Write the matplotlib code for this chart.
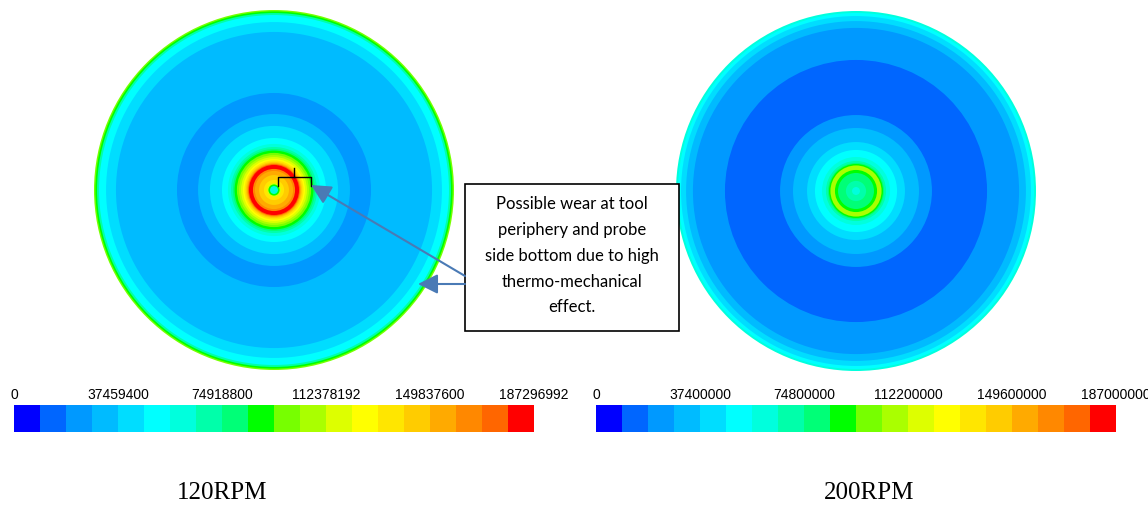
import numpy as np
import matplotlib.pyplot as plt
from matplotlib.colors import ListedColormap, BoundaryNorm
from matplotlib.patches import Circle, Rectangle

W, H = 1148, 510

# 20-level contour palette (blue -> red)
band_colors = ["#0000ff", "#0066ff", "#0099ff", "#00bbff", "#00ddff",
               "#00ffff", "#00ffdd", "#00ffaa", "#00ff77", "#00ff00",
               "#77ff00", "#aaff00", "#ddff00", "#ffff00", "#ffe600",
               "#ffcc00", "#ffaa00", "#ff8800", "#ff6600", "#ff0000"]

# 120RPM: ring outer radius (r/R) and contour value
left_max = 187296992
left_ticks = ["0", "37459400", "74918800", "112378192", "149837600", "187296992"]
left_radius = [1.000, 0.992, 0.983, 0.972, 0.933, 0.878, 0.539, 0.422, 0.356, 0.289,
               0.256, 0.239, 0.228, 0.219, 0.206, 0.194, 0.183, 0.172, 0.164, 0.156,
               0.150, 0.144, 0.139, 0.117, 0.106, 0.083, 0.056, 0.039, 0.031, 0.022]
left_value = [98e6, 89e6, 70e6, 51e6, 42e6, 33e6, 23e6, 33e6, 42e6, 51e6,
              61e6, 70e6, 80e6, 89e6, 98e6, 108e6, 117e6, 126e6, 136e6, 145e6,
              155e6, 173e6, 183e6, 164e6, 155e6, 145e6, 136e6, 117e6, 89e6, 61e6]

# 200RPM
right_max = 187000000
right_ticks = ["0", "37400000", "74800000", "112200000", "149600000", "187000000"]
right_radius = [1.000, 0.989, 0.972, 0.944, 0.906, 0.728, 0.422, 0.350, 0.272, 0.228,
                0.189, 0.167, 0.156, 0.150, 0.142, 0.117, 0.100, 0.056, 0.022]
right_value = [61e6, 51e6, 42e6, 33e6, 23e6, 14e6, 23e6, 33e6, 42e6, 51e6,
               61e6, 70e6, 80e6, 89e6, 108e6, 89e6, 80e6, 70e6, 61e6]

note = "Possible wear at tool\nperiphery and probe\nside bottom due to high\nthermo-mechanical\neffect."
arrow_color = "#4a7ab5"

cmap = ListedColormap(band_colors)

fig = plt.figure(figsize=(W / 100, H / 100), dpi=100)


def px_axes(x, y, w, h):
    return fig.add_axes([x / W, 1 - (y + h) / H, w / W, h / H])


def draw_disk(box, radius, value, vmax):
    ax = px_axes(*box)
    norm = BoundaryNorm(np.linspace(0, vmax, 21), cmap.N)
    for r, v in zip(radius, value):
        ax.add_patch(Circle((0, 0), r, facecolor=cmap(norm(v)), edgecolor="none"))
    ax.set_xlim(-1, 1)
    ax.set_ylim(-1, 1)
    ax.set_aspect("equal")
    ax.axis("off")
    return norm


def draw_bar(box, norm, vmax, ticks):
    cax = px_axes(*box)
    cb = fig.colorbar(plt.cm.ScalarMappable(norm=norm, cmap=cmap), cax=cax,
                      orientation="horizontal")
    cb.set_ticks(np.linspace(0, vmax, 6))
    cb.set_ticklabels(ticks)
    cb.minorticks_off()
    cb.outline.set_visible(False)
    cax.xaxis.set_ticks_position("top")
    cax.tick_params(which="both", length=0, pad=3, labelsize=10)
    for t in cax.get_xticklabels():
        t.set_fontfamily("Liberation Sans")
        t.set_clip_on(False)


norm_l = draw_disk((94, 11, 360, 360), left_radius, left_value, left_max)
norm_r = draw_disk((676, 12, 360, 360), right_radius, right_value, right_max)
draw_bar((14, 406, 520, 27), norm_l, left_max, left_ticks)
draw_bar((596, 406, 520, 27), norm_r, right_max, right_ticks)

# overlay in pixel coordinates for annotations
ov = fig.add_axes([0, 0, 1, 1])
ov.set_xlim(0, W)
ov.set_ylim(H, 0)
ov.axis("off")
ov.patch.set_visible(False)

# bracket over probe region
ov.plot([278, 278, 311, 311], [187, 178, 178, 187], color="black", lw=1.0)
ov.plot([294, 294], [178, 169], color="black", lw=1.0)

arrow_kw = dict(arrowstyle="-|>,head_length=0.6,head_width=0.3", color=arrow_color,
                lw=1.5, mutation_scale=20, shrinkA=0, shrinkB=0)
ov.annotate("", xy=(311, 186), xytext=(465, 277), arrowprops=arrow_kw)
ov.annotate("", xy=(418, 285), xytext=(465, 285), arrowprops=arrow_kw)

ov.add_patch(Rectangle((465, 185), 214, 147, facecolor="white", edgecolor="black", lw=1.2))
ov.text(572, 256, note, ha="center", va="center", fontsize=12, family="Lato",
        linespacing=1.75)

ov.text(222, 493, "120RPM", ha="center", va="center", fontsize=18, family="Liberation Serif")
ov.text(869, 493, "200RPM", ha="center", va="center", fontsize=18, family="Liberation Serif")

fig.savefig("out.png", dpi=100)
